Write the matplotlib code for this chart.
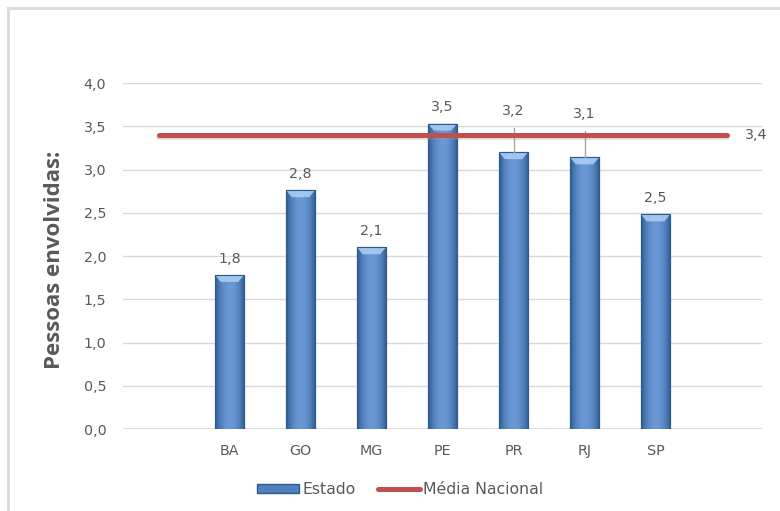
import matplotlib
matplotlib.use("Agg")
import matplotlib.pyplot as plt
import numpy as np
from matplotlib.lines import Line2D
from matplotlib.patches import Rectangle, Polygon

categories = ["", "BA", "GO", "MG", "PE", "PR", "RJ", "SP", ""]
estado = [np.nan, 1.78, 2.76, 2.10, 3.53, 3.20, 3.14, 2.48, np.nan]
estado_labels = ["", "1,8", "2,8", "2,1", "3,5", "3,2", "3,1", "2,5", ""]
media_nacional = [3.4] * 9
media_label = "3,4"
yticks = [0.0, 0.5, 1.0, 1.5, 2.0, 2.5, 3.0, 3.5, 4.0]
ytick_labels = ["0,0", "0,5", "1,0", "1,5", "2,0", "2,5", "3,0", "3,5", "4,0"]

FONT = ["DejaVu Sans"]
LABFONT = ["Open Sans", "DejaVu Sans"]
TXT = "#595959"
FS = 10.3

fig = plt.figure(figsize=(7.8, 5.11), dpi=100)
W, H = 780, 511
ax = fig.add_axes([123 / W, 1 - 429 / H, (762 - 123) / W, (429 - 83) / H])

x = np.arange(len(categories))
bars = ax.bar(x, estado, width=0.41, color="#4f81bd", edgecolor="#2c5a8f",
              linewidth=0.8, zorder=3)

# gradient shading on bars
grad = np.linspace(0, 1, 64)
cmap_img = np.zeros((1, 64, 3))
light = np.array([0x6a, 0x98, 0xd6]) / 255
dark = np.array([0x2c, 0x5a, 0x8f]) / 255
for i, g in enumerate(grad):
    t = abs(g - 0.5) * 2
    cmap_img[0, i] = light * (1 - t ** 2) + dark * t ** 2
for b, v in zip(bars, estado):
    if np.isnan(v):
        continue
    x0, w = b.get_x(), b.get_width()
    im = ax.imshow(cmap_img, extent=[x0, x0 + w, 0, v], aspect="auto",
                   zorder=3.1, interpolation="bilinear")
    im.set_clip_path(b)
    # top bevel (trapezoid)
    ax.add_patch(Polygon([(x0, v), (x0 + w, v), (x0 + w * 0.8, v - 0.08),
                          (x0 + w * 0.2, v - 0.08)],
                         facecolor="#a9cdf2", edgecolor="none", zorder=3.2, alpha=0.9))
    ax.add_patch(Rectangle((x0, 0), w, v, facecolor="none", edgecolor="#2c5a8f",
                           linewidth=0.8, zorder=3.3))

# national average line with a soft shadow
ax.plot(x, np.array(media_nacional) - 0.025, color="#999999", lw=4, alpha=0.35,
        solid_capstyle="round", zorder=3.9)
ax.plot(x, media_nacional, color="#c0504d", lw=3.6, solid_capstyle="round", zorder=4)

ax.set_xlim(-0.5, len(categories) - 0.5)
ax.set_ylim(0, 4.0)
ax.set_yticks(yticks)
ax.set_yticklabels(ytick_labels)
ax.set_xticks(x)
ax.set_xticklabels(categories)
ax.tick_params(length=0, colors=TXT, labelsize=FS)
ax.tick_params(axis="y", pad=12)
ax.tick_params(axis="x", pad=11)
for lab in ax.get_xticklabels() + ax.get_yticklabels():
    lab.set_family(FONT)
ax.grid(axis="y", color="#d9d9d9", lw=1, zorder=0)
for s in ax.spines.values():
    s.set_visible(False)
ax.axhline(0, color="#d9d9d9", lw=1.2, zorder=1)

# data labels
lifted = {"PR": 0.40, "RJ": 0.42}
for xi, v, lab, cat in zip(x, estado, estado_labels, categories):
    if np.isnan(v):
        continue
    if cat in lifted:
        off = lifted[cat]
        ax.plot([xi, xi], [v, v + off - 0.12], color="#a6a6a6", lw=1, zorder=3.5)
        ax.text(xi, v + off, lab, ha="center", va="bottom", color=TXT,
                fontsize=FS, family=FONT)
    else:
        ax.text(xi, v + 0.11, lab, ha="center", va="bottom", color=TXT,
                fontsize=FS, family=FONT)
ax.text(x[-1] + 0.26, media_nacional[-1], media_label, ha="left", va="center",
        color=TXT, fontsize=FS, family=FONT)

ax.text(55 / W, 1 - 260 / H, "Pessoas envolvidas:", transform=fig.transFigure,
        rotation=90, ha="center", va="center", fontsize=16, fontweight="bold",
        color=TXT, family=LABFONT)

# legend
h1 = Rectangle((0, 0), 1, 1, facecolor="#4f81bd", edgecolor="#2c5a8f")
h2 = Line2D([0], [0], color="#c0504d", lw=3.6, solid_capstyle="round")
leg = fig.legend([h1, h2], ["Estado", "Média Nacional"], loc="center",
                 bbox_to_anchor=(400 / W, 1 - 490 / H), ncol=2, frameon=False,
                 handlelength=2.7, handleheight=0.5, handletextpad=0.2,
                 columnspacing=1.4, prop={"family": FONT, "size": 11.3})
for t in leg.get_texts():
    t.set_color(TXT)

# chart border (partial frame)
fig.add_artist(Line2D([8 / W, 8 / W], [0, 1 - 8 / H], color="#d9d9d9", lw=2,
                      transform=fig.transFigure))
fig.add_artist(Line2D([8 / W, 1], [1 - 8 / H, 1 - 8 / H], color="#d9d9d9", lw=2,
                      transform=fig.transFigure))

fig.savefig("out.png", dpi=100)
